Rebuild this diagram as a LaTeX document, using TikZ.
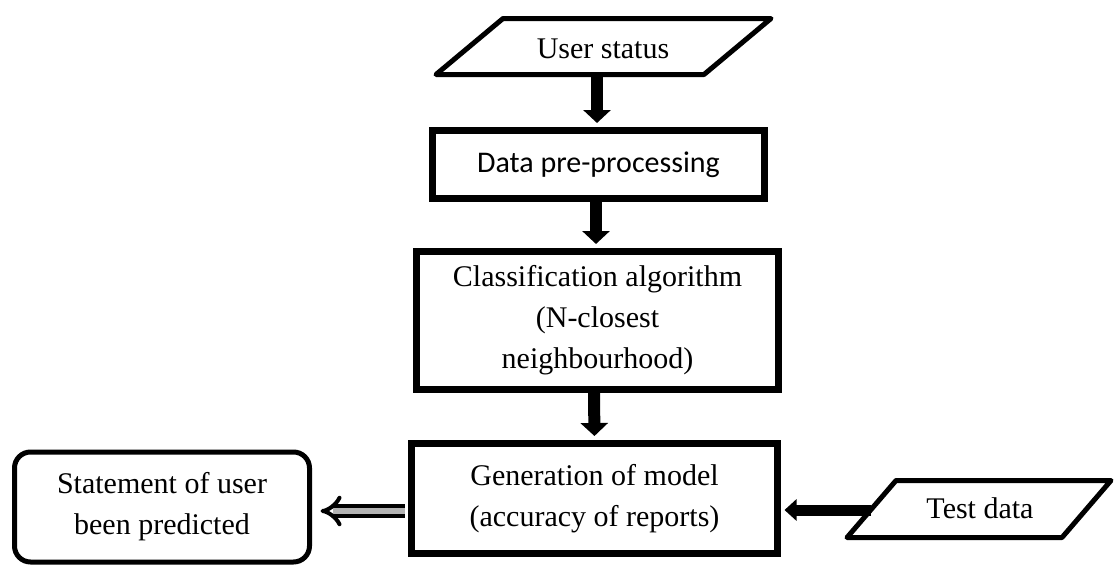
\documentclass[tikz,border=0pt]{standalone}
\usepackage{fontspec}
\setmainfont{Liberation Serif}
\newfontfamily\calfont{Carlito}
\usetikzlibrary{arrows.meta}
\begin{document}
\begin{tikzpicture}[x=1pt,y=-1pt,
  txt/.style={font=\fontsize{30}{41}\selectfont, align=center, inner sep=0pt},
  procbox/.style={draw, line width=7pt, rectangle, txt},
  iobox/.style={draw, line width=5pt, line join=round},
  endbox/.style={draw, line width=5pt, rounded corners=16pt, rectangle, txt},
  flow/.style={line width=12pt, -{Triangle[width=27pt,length=13pt]}, shorten >=4pt},
  flowthin/.style={line width=11pt, -{Triangle[width=21pt,length=12pt]}},
  dbl/.style={line width=4pt, double=gray!60, double distance=6pt, -{Implies}}]
\useasboundingbox (0,0) rectangle (1114,565);
\clip (0,0) rectangle (1114,565);

% input: user status
\coordinate (us1) at (503,18.5);
\coordinate (us2) at (771,18.5);
\coordinate (us3) at (704,74.5);
\coordinate (us4) at (436,74.5);
\draw[iobox] (us1) -- (us2) -- (us3) -- (us4) -- cycle;
\node[txt] (us) at (603,49) {User status};

\node[procbox, minimum width=332pt, minimum height=68pt] (dp) at (598.5,164.5) {\calfont Data pre-processing};
\node[procbox, minimum width=362pt, minimum height=138pt] (cl) at (597.5,320.5) {Classification algorithm\\(N-closest\\neighbourhood)};
\node[procbox, minimum width=366pt, minimum height=110pt] (gen) at (594.5,498.5) {Generation of model\\(accuracy of reports)};
\node[endbox, minimum width=295pt, minimum height=110pt] (st) at (162,507) {Statement of user\\been predicted};

% input: test data
\coordinate (td1) at (896,480.5);
\coordinate (td2) at (1111,480.5);
\coordinate (td3) at (1062,537.5);
\coordinate (td4) at (847,537.5);
\draw[iobox] (td1) -- (td2) -- (td3) -- (td4) -- cycle;
\node[txt] (td) at (980,508) {Test data};
\coordinate (tdl) at (871,510);
\coordinate (usb) at (597,74);

% connectors
\draw[flow] (usb) -- (usb |- dp.north);
\draw[flow] ([xshift=-2.5pt]dp.south) -- ([xshift=-1.5pt]cl.north);
\draw[flow] ([xshift=-3.5pt]cl.south) -- (gen.north);
\draw[flowthin] (tdl) -- ([xshift=3.5pt,yshift=-11.5pt]gen.east);
\draw[dbl] ([xshift=-3.5pt,yshift=-12.5pt]gen.west) -- ([xshift=8.5pt,yshift=-4pt]st.east);
\end{tikzpicture}
\end{document}
